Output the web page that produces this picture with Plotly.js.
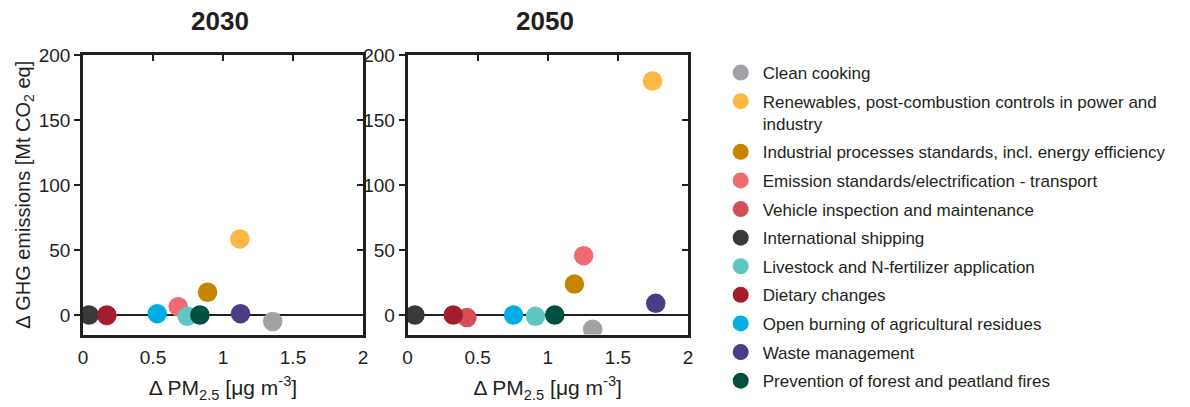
<!DOCTYPE html>
<html>
<head>
<meta charset="utf-8">
<script src="https://cdn.plot.ly/plotly-3.0.1.min.js"></script>
<style>html,body{margin:0;padding:0;background:#fff;}#chart{width:1190px;height:407px;}</style>
</head>
<body>
<div id="chart"></div>
<script>
// ---- data ----
const categories = [
  "Clean cooking",
  "Renewables, post-combustion controls in power and<br>industry",
  "Industrial processes standards, incl. energy efficiency",
  "Emission standards/electrification - transport",
  "Vehicle inspection and maintenance",
  "International shipping",
  "Livestock and N-fertilizer application",
  "Dietary changes",
  "Open burning of agricultural residues",
  "Waste management",
  "Prevention of forest and peatland fires"
];
const colors = ["#a1a2a5","#fdb843","#c58500","#ef6b6f","#d44f56","#393939","#5fc6c0","#a31c30","#00aee5","#4c3b87","#00503f"];
const pm2030  = [1.355, 1.12, 0.89, 0.68, 0.17, 0.043, 0.745, 0.17, 0.53, 1.125, 0.835];
const ghg2030 = [-5, 58.5, 17.5, 6.4, -0.5, 0, -1, 0, 1, 1, 0];
const pm2050  = [1.32, 1.747, 1.19, 1.256, 0.424, 0.053, 0.912, 0.326, 0.756, 1.77, 1.05];
const ghg2050 = [-11, 180, 23.8, 45.6, -2, 0, -1, 0, 0, 9, 0];
const xTicks = [0, 0.5, 1, 1.5, 2];
const xTickText = ["0", "0.5", "1", "1.5", "2"];
const yTicks = [0, 50, 100, 150, 200];
const panelTitles = ["2030", "2050"];

// ---- layout helpers ----
const FONT = "Liberation Sans, Arial, sans-serif";
const INK = "#231f20";
const W = 1190, H = 407;
const yDom = [1 - 334.5/H, 1 - 55/H];
const xDomL = [83/W, 363/W];
const xDomR = [407.5/W, 688/W];

const traces = [];
categories.forEach((c, i) => {
  traces.push({type:"scatter", mode:"markers", x:[pm2030[i]], y:[ghg2030[i]], xaxis:"x", yaxis:"y",
    name:c, legendgroup:"g"+i, showlegend:true,
    marker:{color:colors[i], size:19.5, line:{width:0}}, hoverinfo:"name+x+y"});
});
categories.forEach((c, i) => {
  traces.push({type:"scatter", mode:"markers", x:[pm2050[i]], y:[ghg2050[i]], xaxis:"x2", yaxis:"y2",
    name:c, legendgroup:"g"+i, showlegend:false,
    marker:{color:colors[i], size:19.5, line:{width:0}}, hoverinfo:"name+x+y"});
});
// invisible helper traces so the mirrored (top / right) frame axes get drawn
[["x3","y"],["x","y3"],["x4","y2"],["x2","y4"]].forEach(([xa, ya]) => {
  traces.push({type:"scatter", mode:"markers", x:[null], y:[null], xaxis:xa, yaxis:ya,
    showlegend:false, hoverinfo:"skip", marker:{opacity:0}});
});

function xMain(dom, anchor) {
  return {domain:dom, anchor:anchor, range:[0,2], tickvals:xTicks, ticktext:xTickText, ticks:"", ticklen:0,
    ticklabelstandoff:4, showline:true, linecolor:INK, linewidth:2.5, showgrid:false, zeroline:false,
    tickfont:{family:FONT, size:19, color:INK}, fixedrange:true,
    title:{text:"Δ PM<sub>2.5</sub> [μg m<sup>-3</sup>]", font:{family:FONT, size:21, color:INK}, standoff:14}};
}
function xTop(over, anchor) {
  return {overlaying:over, anchor:anchor, side:"top", range:[0,2], tickvals:[0.5,1,1.5], ticks:"inside", ticklen:6,
    tickwidth:2, tickcolor:INK, showticklabels:false, showline:true, linecolor:INK, linewidth:2.5, showgrid:false,
    zeroline:false, fixedrange:true};
}
function yMain(anchor, withTitle) {
  const a = {domain:yDom, anchor:anchor, range:[-15,200], tickvals:yTicks, ticks:"outside", ticklen:6, tickwidth:2,
    tickcolor:INK, showline:true, linecolor:INK, linewidth:2.5, showgrid:false, zeroline:true, zerolinecolor:INK,
    zerolinewidth:2, tickfont:{family:FONT, size:19, color:INK}, fixedrange:true};
  if (withTitle) a.title = {text:"Δ GHG emissions [Mt CO<sub>2</sub> eq]", font:{family:FONT, size:20, color:INK}, standoff:3};
  return a;
}
function yRight(over, anchor) {
  return {overlaying:over, anchor:anchor, side:"right", range:[-15,200], tickvals:[50,100,150], ticks:"inside", ticklen:6,
    tickwidth:2, tickcolor:INK, showticklabels:false, showline:true, linecolor:INK, linewidth:2.5, showgrid:false,
    zeroline:false, fixedrange:true};
}

const layout = {
  width:W, height:H, margin:{l:0, r:0, t:0, b:0}, paper_bgcolor:"#fff", plot_bgcolor:"#fff",
  font:{family:FONT, color:INK},
  xaxis: xMain(xDomL, "y"),
  yaxis: yMain("x", true),
  xaxis2: xMain(xDomR, "y2"),
  yaxis2: yMain("x2", false),
  xaxis3: xTop("x", "y"),
  yaxis3: yRight("y", "x"),
  xaxis4: xTop("x2", "y2"),
  yaxis4: yRight("y2", "x2"),
  showlegend:true,
  legend:{x:(741.7-23)/W, xanchor:"left", y:1-55/H, yanchor:"top", valign:"top", tracegroupgap:3.5, itemwidth:34,
    font:{family:FONT, size:17, color:INK}, bgcolor:"rgba(0,0,0,0)", itemclick:false, itemdoubleclick:false},
  annotations:[
    {text:"<b>"+panelTitles[0]+"</b>", xref:"paper", yref:"paper", x:219.5/W, y:1-21/H, showarrow:false,
     xanchor:"center", yanchor:"middle", font:{family:FONT, size:26, color:INK}},
    {text:"<b>"+panelTitles[1]+"</b>", xref:"paper", yref:"paper", x:545/W, y:1-21/H, showarrow:false,
     xanchor:"center", yanchor:"middle", font:{family:FONT, size:26, color:INK}}
  ]
};

Plotly.newPlot("chart", traces, layout, {displayModeBar:false});
</script>
</body>
</html>
